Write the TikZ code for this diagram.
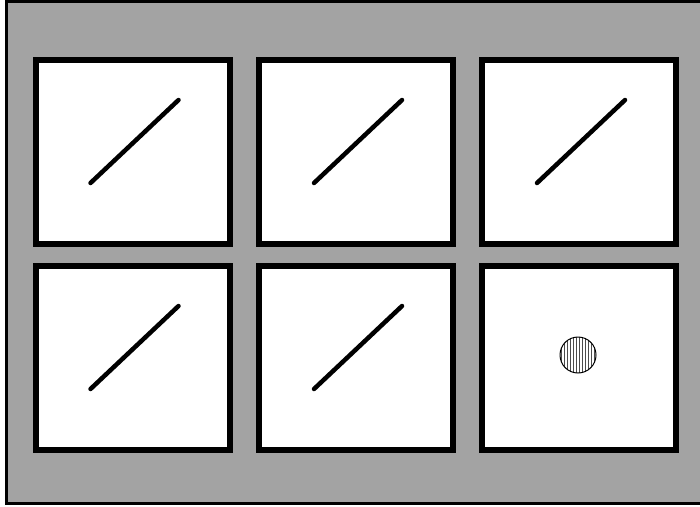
\documentclass[tikz,border=0pt]{standalone}
\usetikzlibrary{patterns}
\begin{document}
\begin{tikzpicture}[x=1pt,y=-1pt,
  panel/.style={draw=black,line width=6pt,fill=white,minimum width=194pt,minimum height=184pt,inner sep=0pt},
  diag/.style={draw=black,line width=4.5pt,line cap=round},
  ball/.style={circle,draw=black,line width=1pt,minimum size=36pt,inner sep=0pt,pattern=vertical lines,pattern color=black!70}]
\useasboundingbox (0,0) rectangle (700,506);
\begin{scope}
\clip (0,0) rectangle (700,506);
\fill[white] (0,0) rectangle (700,506);
\draw[line width=3pt,fill=black!36] (6,1.5) rectangle (704,503);
\end{scope}
\node[panel] (s1) at (132.5,152) {};
\node[panel] (s2) at (356,152) {};
\node[panel] (s3) at (579,152) {};
\node[panel] (s4) at (132.5,358) {};
\node[panel] (s5) at (356,358) {};
\node[panel] (s6) at (579,358) {};
\foreach \s in {s1,s2,s3,s4,s5}{
  \draw[diag] ([shift={(-42,31)}]\s.center) -- ([shift={(46,-52)}]\s.center);
}
\node[ball] (b) at (578,355) {};
\end{tikzpicture}
\end{document}
